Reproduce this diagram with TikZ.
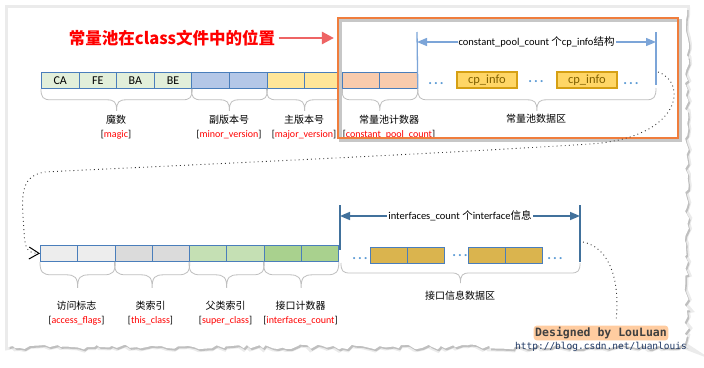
\documentclass[tikz,border=0pt]{standalone}
\usepackage{fontspec}
\setmainfont{Carlito}
\newfontfamily\cjk{Noto Sans CJK SC}
\newfontfamily\wm{DejaVu Sans Mono}
\usetikzlibrary{arrows.meta,calc,decorations.pathmorphing}
\definecolor{cellline}{RGB}{74,126,187}
\definecolor{magicfill}{RGB}{226,239,218}
\definecolor{minorfill}{RGB}{180,199,231}
\definecolor{majorfill}{RGB}{255,230,153}
\definecolor{cpcfill}{RGB}{248,203,173}
\definecolor{accfill}{RGB}{237,237,237}
\definecolor{thisfill}{RGB}{219,219,219}
\definecolor{superfill}{RGB}{197,224,180}
\definecolor{ifcfill}{RGB}{169,209,142}
\definecolor{ifacefill}{RGB}{218,180,78}
\definecolor{infofill}{RGB}{255,214,102}
\definecolor{infoline}{RGB}{214,160,20}
\definecolor{infotext}{RGB}{128,96,0}
\definecolor{arrowlight}{RGB}{124,165,216}
\definecolor{arrowdark}{RGB}{65,113,156}
\definecolor{dotblue}{RGB}{91,155,213}
\definecolor{bracegray}{RGB}{191,191,191}
\definecolor{boxorange}{RGB}{240,125,60}
\definecolor{titlearrow}{RGB}{238,100,100}
\definecolor{glowor}{RGB}{255,204,160}
\definecolor{urlblue}{RGB}{31,56,100}
\begin{document}
\begin{tikzpicture}[x=1pt, y=-1pt,
  cell/.style={draw=cellline, line width=0.8pt, minimum width=37.6pt, minimum height=16pt,
    inner sep=0pt, anchor=north west, font=\fontsize{12}{12}\selectfont},
  cellb/.style={cell, minimum width=37.25pt},
  ibox/.style={cell, fill=ifacefill, minimum width=37.2pt},
  infobox/.style={draw=infoline, line width=1.8pt, fill=infofill, minimum width=60pt,
    minimum height=16pt, inner sep=0pt, anchor=north west, text=infotext,
    font=\fontsize{12.5}{12}\selectfont},
  lbl/.style={align=center, inner sep=0pt, font=\fontsize{10}{14}\selectfont},
  dots/.style={anchor=base, text=dotblue, font=\bfseries\fontsize{14}{14}\selectfont},
  vlight/.style={draw=arrowlight, line width=1.3pt},
  vdark/.style={draw=arrowdark, line width=1.6pt},
  dimlight/.style={vlight, {Triangle[length=10pt,width=8pt]}-{Triangle[length=10pt,width=8pt]}},
  dimdark/.style={vdark, {Triangle[length=10pt,width=8pt]}-{Triangle[length=10pt,width=8pt]}},
  dimtext/.style={fill=white, inner sep=1pt, font=\fontsize{10.5}{12}\selectfont},
  dotline/.style={draw=black!80, line width=0.9pt, dash pattern=on 0.9pt off 3.2pt},
  frame/.style={draw=boxorange, line width=2.2pt, minimum width=340pt, minimum height=120pt,
    inner sep=0pt, preaction={draw=black!22, line width=3pt, transform canvas={shift={(2pt,-2pt)}}}},
  brc/.style={draw=bracegray, line width=0.8pt, to path={let \p1=(\tikztostart), \p2=(\tikztotarget) in
    (\p1) .. controls (\x1,\y1-#1*0.4) and (\x1+#1*0.1,\y1-#1*0.5) .. (\x1+#1*0.45,\y1-#1*0.5)
    -- ({(\x1+\x2)/2-#1*0.45},\y1-#1*0.5)
    .. controls ({(\x1+\x2)/2-#1*0.1},\y1-#1*0.5) and ({(\x1+\x2)/2},\y1-#1*0.6) .. ({(\x1+\x2)/2},\y1-#1)
    .. controls ({(\x1+\x2)/2},\y1-#1*0.6) and ({(\x1+\x2)/2+#1*0.1},\y1-#1*0.5) .. ({(\x1+\x2)/2+#1*0.45},\y1-#1*0.5)
    -- (\x2-#1*0.45,\y1-#1*0.5) .. controls (\x2-#1*0.1,\y1-#1*0.5) and (\x2,\y1-#1*0.4) .. (\p2)}}]
  \useasboundingbox (0,0) rectangle (704,367);
  \pgfmathsetseed{11}
  \fill[white, preaction={fill=black!8, draw=black!8, line width=6pt},
    preaction={fill=black!25, transform canvas={shift={(1.5pt,-2pt)}}}]
    (8,8) -- (687,8) decorate[decoration={random steps, segment length=5pt, amplitude=2.5pt}]
    {-- (687,347) -- (8,347)} -- cycle;

  \node[text=red, font=\cjk\bfseries\fontsize{16.5}{18}\selectfont] (title) at (172,38) {常量池在class文件中的位置};

  \node[cell, fill=magicfill] (c1) at (41,72) {CA};
  \node[cell, fill=magicfill] (c2) at (78.6,72) {FE};
  \node[cell, fill=magicfill] (c3) at (116.2,72) {BA};
  \node[cell, fill=magicfill] (c4) at (153.8,72) {BE};
  \node[cell, fill=minorfill] (c5) at (191.4,72) {};
  \node[cell, fill=minorfill] (c6) at (229,72) {};
  \node[cell, fill=majorfill] (c7) at (266.6,72) {};
  \node[cell, fill=majorfill] (c8) at (304.2,72) {};
  \node[cell, fill=cpcfill] (c9) at (341.8,72) {};
  \node[cell, fill=cpcfill] (c10) at (379.4,72) {};

  \node[dots] (t1) at (436,84) {.\hspace{2pt}.\hspace{2pt}.};
  \node[infobox] (cp1) at (456,71) {cp\_info};
  \node[dots] (t2) at (536,82.5) {.\hspace{2pt}.\hspace{2pt}.};
  \node[infobox] (cp2) at (556,71) {cp\_info};
  \node[dots] (t3) at (631,84) {.\hspace{2pt}.\hspace{2pt}.};

  \coordinate (pl) at (417,32);
  \coordinate (pr) at (656,32);
  \coordinate (al) at (417,42);
  \coordinate (ar) at (656,42);
  \draw[vlight] (pl) -- (c10.south east);
  \draw[vlight] (pr) -- (656,85);
  \draw[dimlight] (al) -- node[dimtext] {constant\_pool\_count {\cjk 个}cp\_info{\cjk 结构}} (ar);

  \draw[brc=22] (c1.south west) to (c4.south east);
  \draw[brc=22] (c5.south west) to (c6.south east);
  \draw[brc=22] (c7.south west) to (c8.south east);
  \draw[brc=22] (c9.south west) to (c10.south east);
  \draw[brc=22] (c10.south east) to (656,88);

  \node[lbl] (magic) at (116,127) {{\cjk 魔数}\\{[}\textcolor{red}{magic}{]}};
  \node[lbl] (minor) at (229,127) {{\cjk 副版本号}\\{[}\textcolor{red}{minor\_version}{]}};
  \node[lbl] (major) at (304,127) {{\cjk 主版本号}\\{[}\textcolor{red}{major\_version}{]}};
  \node[lbl] (cpcount) at (389,127) {{\cjk 常量池计数器}\\{[}\textcolor{red}{constant\_pool\_count}{]}};
  \node[lbl] (cpdata) at (536,119) {\cjk 常量池数据区};

  \node[frame] (box) at (508,78) {};
  \draw[titlearrow, line width=2.6pt, -{Triangle[length=12pt,width=12pt]}] (title.east) -- ($(box.west |- title.east)+(-3,0)$);

  \node[cellb, fill=accfill] (d1) at (40,245) {};
  \node[cellb, fill=accfill] (d2) at (77.25,245) {};
  \node[cellb, fill=thisfill] (d3) at (114.5,245) {};
  \node[cellb, fill=thisfill] (d4) at (151.75,245) {};
  \node[cellb, fill=superfill] (d5) at (189,245) {};
  \node[cellb, fill=superfill] (d6) at (226.25,245) {};
  \node[cellb, fill=ifcfill] (d7) at (263.5,245) {};
  \node[cellb, fill=ifcfill] (d8) at (300.75,245) {};

  \node[dots] (u1) at (360,259.5) {.\hspace{2pt}.\hspace{2pt}.};
  \node[ibox] (i1) at (370,247) {};
  \node[ibox] (i2) at (407.2,247) {};
  \node[dots] (u2) at (460,256.5) {.\hspace{2pt}.\hspace{2pt}.};
  \node[ibox] (i3) at (467.5,247) {};
  \node[ibox] (i4) at (504.7,247) {};
  \node[dots] (u3) at (555,259.5) {.\hspace{2pt}.\hspace{2pt}.};

  \coordinate (ql) at (340,205);
  \coordinate (qr) at (580,205);
  \coordinate (bl) at (340,216);
  \coordinate (br) at (580,216);
  \draw[vdark] (ql) -- (340,250);
  \draw[vdark] (qr) -- (580,262);
  \draw[dimdark] (bl) -- node[dimtext] {interfaces\_count {\cjk 个}interface{\cjk 信息}} (br);

  \draw[brc=26] (d1.south west) to (d2.south east);
  \draw[brc=26] (d3.south west) to (d4.south east);
  \draw[brc=26] (d5.south west) to (d6.south east);
  \draw[brc=26] (d7.south west) to (d8.south east);
  \draw[brc=20] (341,263) to (580,263);

  \node[lbl] (access) at (76.5,313) {{\cjk 访问标志}\\{[}\textcolor{red}{access\_flags}{]}};
  \node[lbl] (this) at (150.5,313) {{\cjk 类索引}\\{[}\textcolor{red}{this\_class}{]}};
  \node[lbl] (super) at (225.5,313) {{\cjk 父类索引}\\{[}\textcolor{red}{super\_class}{]}};
  \node[lbl] (ifcount) at (300.5,313) {{\cjk 接口计数器}\\{[}\textcolor{red}{interfaces\_count}{]}};
  \node[lbl] (ifdata) at (460,296) {\cjk 接口信息数据区};

  \coordinate (dotA) at (658,72);
  \coordinate (dotB) at (583,242);
  \coordinate (dotE) at (616,321);
  \draw[dotline, -{Straight Barb[length=10pt,width=12pt,line width=1pt,black]}] (dotA) .. controls (688,82) and (682,138) .. (590,144)
    .. controls (400,156) and (120,168) .. (45,172) .. controls (18,176) and (22,200) .. (24,232)
    .. controls (25,250) and (28,253) .. (d1.west);
  \draw[dotline] (dotB) .. controls (612,248) and (620,285) .. (dotE);

  \node[fill=glowor, rounded corners=3pt, inner sep=1.5pt, text=black!75,
    font=\wm\bfseries\fontsize{11.5}{12}\selectfont] (sign) at (601,333) {Designed by LouLuan};
  \node[text=urlblue, inner sep=0pt, font=\wm\fontsize{9.5}{10}\selectfont] (url) at (601,347) {http://blog.csdn.net/luanlouis};
\end{tikzpicture}
\end{document}
